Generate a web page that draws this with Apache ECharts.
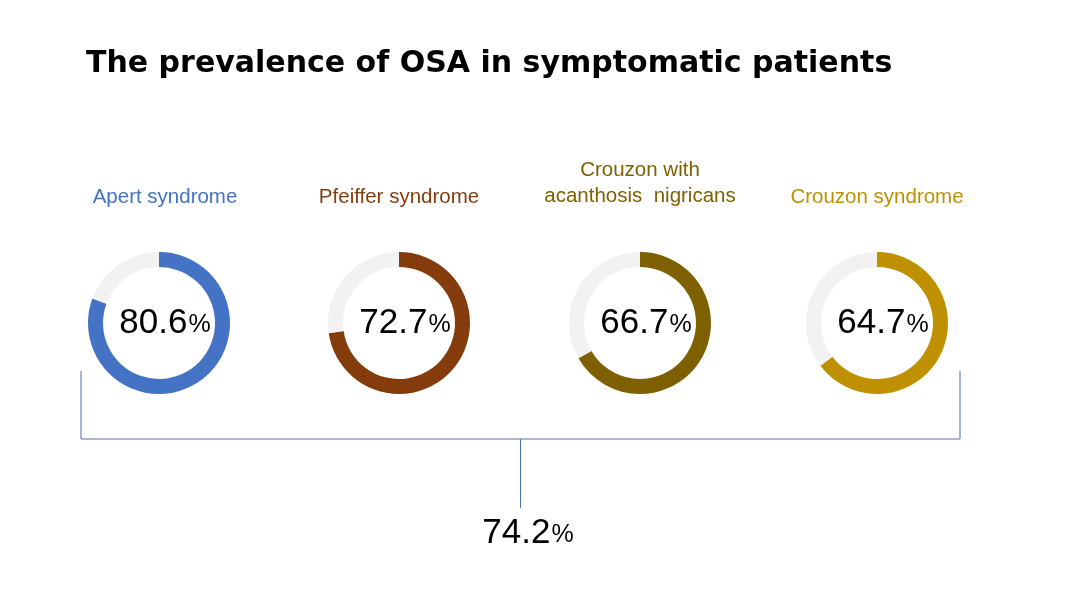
<!DOCTYPE html>
<html lang="en">
	<head>
		<meta charset="UTF-8" />
		<title>OSA prevalence</title>
		<style>
			html, body { margin: 0; padding: 0; background: #fff; }
			#osa-chart { width: 1080px; height: 608px; }
		</style>
	</head>
	<body>
		<div id="osa-chart"></div>
		<script src="https://cdn.jsdelivr.net/npm/echarts@6/dist/echarts.min.js"></script>
		<script>
			// data
			const categories = ["Apert syndrome", "Pfeiffer syndrome", "Crouzon with\nacanthosis  nigricans", "Crouzon syndrome"];
			const values = [80.6, 72.7, 66.7, 64.7];
			const overall = 74.2;

			const colors = ["#4472C4", "#843C0C", "#7F6000", "#BF9000"];
			const centersX = [159, 399, 640, 877];
			const centerY = 323;

			let chart = echarts.init(document.getElementById("osa-chart"));

			let series = values.map(function (v, i) {
				return {
					type: "pie",
					center: [centersX[i], centerY],
					radius: [56, 71],
					startAngle: 90,
					clockwise: true,
					silent: true,
					avoidLabelOverlap: false,
					labelLine: { show: false },
					data: [
						{
							value: v,
							itemStyle: { color: colors[i] },
							label: {
								show: true,
								position: "center",
								formatter: "{v|" + v.toFixed(1) + "}{p|%}",
								rich: {
									v: { fontSize: 35, color: "#000", fontFamily: "Liberation Sans", padding: [0, 0, 0, 12] },
									p: { fontSize: 25, color: "#000", fontFamily: "Liberation Sans", padding: [5, 0, 0, 1] },
								},
							},
						},
						{
							value: 100 - v,
							itemStyle: { color: "#F2F2F2" },
							label: { show: false },
						},
					],
				};
			});

			// category names above each donut
			let texts = categories.map(function (name, i) {
				let twoLines = name.indexOf("\n") >= 0;
				return {
					type: "text",
					x: centersX[i] + (i === 0 ? 6 : 0),
					y: twoLines ? 183 : 197,
					style: {
						text: name,
						fill: colors[i],
						font: "20.5px 'Liberation Sans'",
						align: "center",
						verticalAlign: "middle",
						lineHeight: 26,
					},
				};
			});

			let bracketColor = "#4A6FB5";
			let graphic = texts.concat([
				{
					type: "polyline",
					shape: { points: [[81, 371], [81, 439], [960, 439], [960, 371]] },
					style: { stroke: bracketColor, lineWidth: 1, fill: null },
				},
				{
					type: "line",
					shape: { x1: 520.5, y1: 439, x2: 520.5, y2: 508 },
					style: { stroke: bracketColor, lineWidth: 1 },
				},
				{
					type: "text",
					x: 528,
					y: 533,
					style: {
						text: "{v|" + overall.toFixed(1) + "}{p|%}",
						align: "center",
						verticalAlign: "middle",
						rich: {
							v: { fontSize: 35, fill: "#000", fontFamily: "Liberation Sans" },
							p: { fontSize: 25, fill: "#000", fontFamily: "Liberation Sans", padding: [5, 0, 0, 1] },
						},
					},
				},
			]);

			let option = {
				animation: false,
				title: {
					text: "The prevalence of OSA in symptomatic patients",
					left: 86,
					top: 49,
					padding: 0,
					textStyle: {
						fontSize: 30,
						fontWeight: "bold",
						color: "#000",
						fontFamily: "DejaVu Sans",
					},
				},
				graphic: graphic,
				series: series,
			};
			chart.setOption(option);
		</script>
	</body>
</html>
